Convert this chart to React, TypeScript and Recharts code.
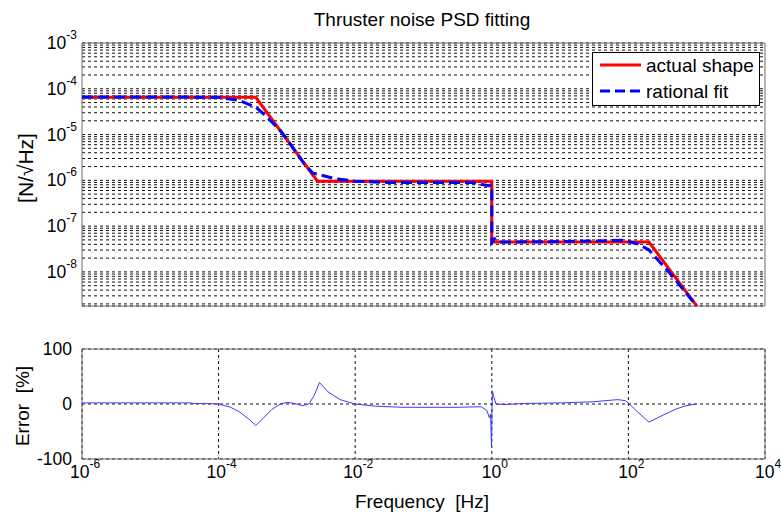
import React from 'react';
import { LineChart, Line, XAxis, YAxis, CartesianGrid, ReferenceArea, Legend } from 'recharts';

// ---------- data ----------
const actualFreq = [1e-6, 3.5e-4, 2.8e-3, 1, 1, 200, 1000];
const actualPsd = [6.5e-5, 6.5e-5, 9.6e-7, 9.6e-7, 4.5e-8, 4.5e-8, 1.8e-9];

const fitFreq = [1e-6, 3e-5, 1e-4, 2e-4, 3.5e-4, 5e-4, 8e-4, 1e-3, 1.8e-3, 2.4e-3, 3e-3, 5e-3, 1e-2, 3e-2, 0.5, 0.9, 1, 1, 1.1, 1.3, 10, 50, 80, 100, 140, 200, 400, 1000];
const fitPsd = [6.6e-5, 6.6e-5, 6.5e-5, 5.6e-5, 3.95e-5, 2.52e-5, 1.22e-5, 7.95e-6, 2.26e-6, 1.43e-6, 1.33e-6, 1.09e-6, 9.6e-7, 9.0e-7, 9.0e-7, 7.6e-7, 8.0e-7, 4.4e-8, 5.3e-8, 4.5e-8, 4.6e-8, 4.8e-8, 4.9e-8, 4.6e-8, 4.05e-8, 3.0e-8, 9.6e-9, 1.8e-9];

const errFreq = [1e-6, 4e-5, 4.2e-5, 9e-5, 1e-4, 1.5e-4, 2e-4, 2.8e-4, 3.5e-4, 4.5e-4, 6e-4, 8e-4, 1e-3, 1.3e-3, 1.7e-3, 2.1e-3, 2.5e-3, 3e-3, 4e-3, 6e-3, 1e-2, 2e-2, 5e-2, 0.3, 0.7, 0.85, 0.92, 0.96, 0.99, 1.0, 1.02, 1.06, 1.15, 1.5, 3, 10, 30, 70, 90, 100, 130, 200, 300, 500, 700, 1000];
const errPct = [2, 2, 1, 0.5, 0, -6, -14, -28, -39, -26, -10, 0, 3, 1, -3, 0, 15, 39, 22, 8, 0, -4, -6, -6, -5, -12, -25, -18, -78, -40, 24, 15, 0, -1, 1, 2, 4, 8, 6, 2, -12, -33, -22, -9, -3, 0];

const xTickValues = [1e-6, 1e-4, 1e-2, 1, 1e2, 1e4];
const psdDecades = [-9, -8, -7, -6, -5, -4, -3];
const psdMultipliers = [1, 2, 3, 4, 5, 6, 7, 8, 9];
const errTicks = [-100, 0, 100];

const legendNames = ['actual shape', 'rational fit'];
const titleText = 'Thruster noise PSD fitting';
const psdLabel = '[N/\u221AHz]';
const errLabel = 'Error  [%]';
const freqLabel = 'Frequency  [Hz]';

// ---------- derived tables ----------
const PSD_MIN = 1.8e-9;
const PSD_MAX = 1e-3;
const psdTicks: number[] = [];
psdDecades.forEach((d) => {
  psdMultipliers.forEach((m) => {
    const v = m * Math.pow(10, d);
    if (v >= PSD_MIN * 0.999 && v <= PSD_MAX * 1.001) psdTicks.push(v);
  });
});
const actualData = actualFreq.map((f, i) => ({ f, v: actualPsd[i] }));
const fitData = fitFreq.map((f, i) => ({ f, v: fitPsd[i] }));
const errData = errFreq.map((f, i) => ({ f, e: errPct[i] }));

const FONT = '"Liberation Sans", Arial, Helvetica, sans-serif';
const RED = '#ff0000';
const BLUE = '#0000ff';
const ERR_BLUE = '#3c3cff';
const BOX = '#6a6a6a';
const TICK_FS = 17.5;
const SUP_FS = 12;
const LABEL_FS = 19;

const isDecade = (v: number) => {
  const e = Math.round(Math.log10(v));
  return Math.abs(v - Math.pow(10, e)) < 1e-6 * v;
};

const PsdTick = (props: any) => {
  const { x, y, payload } = props;
  const v = payload.value;
  if (!isDecade(v)) return <g />;
  const e = Math.round(Math.log10(v));
  return (
    <text x={x - 5} y={y + 6} textAnchor="end" fontSize={TICK_FS} fill="#000" fontFamily={FONT}>
      <tspan>10</tspan>
      <tspan dy={-10} fontSize={SUP_FS}>{String(e)}</tspan>
    </text>
  );
};

const FreqTick = (props: any) => {
  const { x, y, payload } = props;
  const e = Math.round(Math.log10(payload.value));
  return (
    <text x={x + 3} y={y + 19} textAnchor="middle" fontSize={TICK_FS} fill="#000" fontFamily={FONT}>
      <tspan>10</tspan>
      <tspan dy={-10} fontSize={SUP_FS}>{String(e)}</tspan>
    </text>
  );
};

const ErrTick = (props: any) => {
  const { x, y, payload } = props;
  return (
    <text x={x - 10} y={y + 6} textAnchor="end" fontSize={TICK_FS} fill="#000" fontFamily={FONT}>
      {String(payload.value)}
    </text>
  );
};

const LegendBox = () => (
  <svg width={168} height={54} style={{ display: 'block' }}>
    <rect x={0.5} y={0.5} width={167} height={53} fill="#fff" stroke="#000" strokeWidth={1} />
    <line x1={8} x2={49} y1={13} y2={13} stroke={RED} strokeWidth={3} />
    <text x={54} y={20} fontSize={LABEL_FS} fontFamily={FONT} fill="#000">{legendNames[0]}</text>
    <line x1={8} x2={49} y1={39} y2={39} stroke={BLUE} strokeWidth={3} strokeDasharray="10 5" />
    <text x={54} y={46} fontSize={LABEL_FS} fontFamily={FONT} fill="#000">{legendNames[1]}</text>
  </svg>
);

export default function App() {
  return (
    <div style={{ position: 'absolute', left: 0, top: 0, width: 781, height: 513, background: '#fff', overflow: 'hidden' }}>
      <div style={{ position: 'absolute', left: 0, top: 0 }}>
        <LineChart width={781} height={513} margin={{ top: 43, right: 16, bottom: 207, left: 0 }}>
          <CartesianGrid vertical={false} stroke="#111" strokeDasharray="3 3" />
          <XAxis dataKey="f" type="number" scale="log" domain={[1e-6, 1e4]} allowDataOverflow hide ticks={xTickValues} />
          <YAxis
            type="number"
            scale="log"
            domain={[PSD_MIN, PSD_MAX]}
            allowDataOverflow
            ticks={psdTicks}
            interval={0}
            width={82}
            tickSize={0}
            tickMargin={0}
            tickLine={false}
            axisLine={false}
            tick={<PsdTick />}
          />
          <ReferenceArea x1={1e-6} x2={1e4} y1={PSD_MIN} y2={PSD_MAX} fill="none" stroke={BOX} strokeWidth={1} ifOverflow="visible" />
          <Line data={actualData} dataKey="v" name={legendNames[0]} stroke={RED} strokeWidth={3} dot={false} isAnimationActive={false} />
          <Line data={fitData} dataKey="v" name={legendNames[1]} stroke={BLUE} strokeWidth={3} strokeDasharray="11 5" dot={false} isAnimationActive={false} />
          <Legend
            layout="vertical"
            align="center"
            verticalAlign="middle"
            content={<LegendBox />}
            wrapperStyle={{ position: 'absolute', left: 592, top: 52, width: 168, height: 54 }}
          />
        </LineChart>
      </div>
      <div style={{ position: 'absolute', left: 0, top: 0 }}>
        <LineChart width={781} height={513} margin={{ top: 349, right: 16, bottom: 0, left: 0 }}>
          <CartesianGrid stroke="#111" strokeDasharray="3 3" />
          <XAxis
            dataKey="f"
            type="number"
            scale="log"
            domain={[1e-6, 1e4]}
            allowDataOverflow
            ticks={xTickValues}
            interval={0}
            height={54}
            tickSize={0}
            tickMargin={0}
            tickLine={false}
            axisLine={false}
            tick={<FreqTick />}
          />
          <YAxis
            type="number"
            domain={[-100, 100]}
            allowDataOverflow
            ticks={errTicks}
            interval={0}
            width={82}
            tickSize={0}
            tickMargin={0}
            tickLine={false}
            axisLine={false}
            tick={<ErrTick />}
          />
          <ReferenceArea x1={1e-6} x2={1e4} y1={-100} y2={100} fill="none" stroke={BOX} strokeWidth={1} ifOverflow="visible" />
          <Line data={errData} dataKey="e" stroke={ERR_BLUE} strokeWidth={1} dot={false} isAnimationActive={false} />
        </LineChart>
      </div>
      <svg width={781} height={513} style={{ position: 'absolute', left: 0, top: 0, pointerEvents: 'none' }}>
        <text x={422} y={26} textAnchor="middle" fontSize={LABEL_FS} fontFamily={FONT} fill="#000">{titleText}</text>
        <text x={0} y={0} transform="translate(33 168) rotate(-90)" textAnchor="middle" fontSize={21} fontFamily={FONT} fill="#000">{psdLabel}</text>
        <text x={0} y={0} xmlSpace="preserve" style={{ whiteSpace: 'pre' }} transform="translate(29 406) rotate(-90)" textAnchor="middle" fontSize={LABEL_FS} fontFamily={FONT} fill="#000">{errLabel}</text>
        <text x={422} y={508} xmlSpace="preserve" style={{ whiteSpace: 'pre' }} textAnchor="middle" fontSize={LABEL_FS} fontFamily={FONT} fill="#000">{freqLabel}</text>
      </svg>
    </div>
  );
}
